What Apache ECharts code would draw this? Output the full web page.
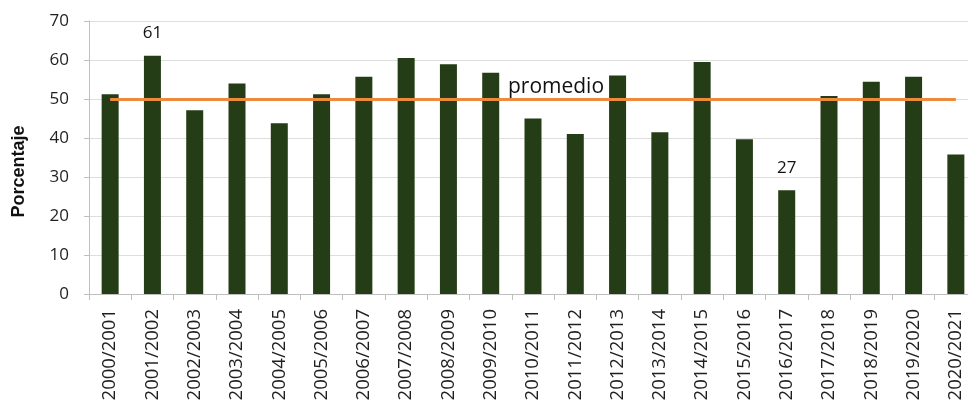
<!DOCTYPE html>
<html>
<head>
<meta charset="utf-8">
<script src="https://cdn.jsdelivr.net/npm/echarts@6/dist/echarts.min.js"></script>
<style>
html,body{margin:0;padding:0;background:#fff;}
#chart{width:968px;height:400px;}
</style>
</head>
<body>
<div id="chart"></div>
<script>
var categories = ['2000/2001','2001/2002','2002/2003','2003/2004','2004/2005','2005/2006','2006/2007','2007/2008','2008/2009','2009/2010','2010/2011','2011/2012','2012/2013','2013/2014','2014/2015','2015/2016','2016/2017','2017/2018','2018/2019','2019/2020','2020/2021'];
var porcentaje = [51.2, 61.1, 47.1, 54.0, 43.8, 51.2, 55.7, 60.5, 58.9, 56.7, 45.0, 41.0, 56.0, 41.5, 59.5, 39.7, 26.6, 50.8, 54.4, 55.7, 35.8];
var labeledIdx = [1, 16];
var promedio = 50;
var promedioLabel = 'promedio';
var yTicks = {min: 0, max: 70, interval: 10};

var FONT = 'Open Sans';
var barData = porcentaje.map(function (v, i) {
  var item = {value: v};
  if (labeledIdx.indexOf(i) >= 0) {
    item.label = {show: true};
  }
  return item;
});

var chart = echarts.init(document.getElementById('chart'));
chart.setOption({
  animation: false,
  backgroundColor: '#ffffff',
  grid: {left: 89, top: 21, width: 888, bottom: 106, containLabel: false, outerBoundsMode: 'none'},
  xAxis: {
    type: 'category',
    data: categories,
    boundaryGap: true,
    axisLine: {show: true, lineStyle: {color: '#bfbfbf', width: 1}},
    axisTick: {show: true, length: 6, lineStyle: {color: '#bfbfbf'}},
    axisLabel: {rotate: 90, margin: 15, interval: 0, color: '#1f1f1f', fontFamily: FONT, fontSize: 18.5},
    splitLine: {show: false}
  },
  yAxis: {
    type: 'value',
    min: yTicks.min, max: yTicks.max, interval: yTicks.interval,
    name: 'Porcentaje',
    nameLocation: 'middle',
    nameGap: 61,
    nameRotate: 90,
    nameTextStyle: {fontFamily: 'Liberation Sans', fontWeight: 'bold', fontSize: 18, color: '#111', padding: [0, 28, 0, 0]},
    axisLine: {show: true, lineStyle: {color: '#bfbfbf', width: 1}},
    axisTick: {show: true, length: 5, lineStyle: {color: '#bfbfbf'}},
    axisLabel: {margin: 20, color: '#1f1f1f', fontFamily: FONT, fontSize: 17},
    splitLine: {show: true, lineStyle: {color: '#dedede', width: 1}}
  },
  series: [{
    type: 'bar',
    data: barData,
    barWidth: 17,
    itemStyle: {color: '#253d17'},
    label: {show: false, position: 'top', distance: 14, color: '#111', fontFamily: FONT, fontSize: 17,
      formatter: function (p) { return Math.round(p.value); }},
    markLine: {
      silent: true,
      symbol: 'none',
      lineStyle: {color: '#ee8a3c', width: 3, type: 'solid'},
      label: {show: false},
      data: [[{coord: [0, promedio]}, {coord: [categories.length - 1, promedio]}]]
    },
    markPoint: {
      silent: true,
      symbol: 'rect',
      symbolSize: 1,
      itemStyle: {color: 'rgba(0,0,0,0)'},
      label: {show: true, position: 'inside', formatter: promedioLabel, offset: [23, -12],
        color: '#111', fontFamily: FONT, fontSize: 21},
      data: [{coord: [10, promedio]}]
    }
  }]
});
</script>
</body>
</html>
